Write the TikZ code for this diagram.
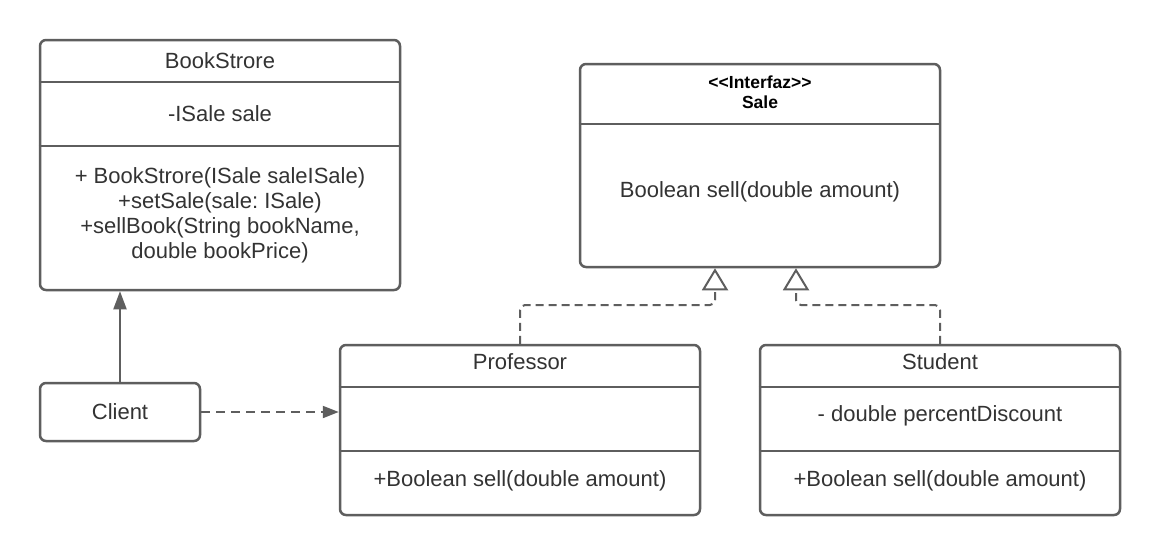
\documentclass[tikz,border=0pt]{standalone}
\usepackage{fontspec}
\setmainfont{Liberation Sans}
\usetikzlibrary{arrows.meta,positioning}
\definecolor{umlline}{HTML}{5E5E5E}
\definecolor{umltext}{HTML}{333333}
\frenchspacing

\begin{document}
\begin{tikzpicture}[x=1pt,y=-1pt,
    classbox/.style={draw=umlline, line width=2.5pt, rounded corners=6pt, inner sep=0pt, minimum width=360pt},
    divider/.style={draw=umlline, line width=2.5pt},
    txt/.style={text=umltext, font=\fontsize{22}{25}\selectfont, align=center, inner sep=0pt},
    stereo/.style={text=black, font=\fontsize{17.5}{20}\selectfont\bfseries, align=center, inner sep=0pt},
    assoc/.style={draw=umlline, line width=2pt, -{Triangle[length=18pt,width=13pt]}},
    dep/.style={draw=umlline, line width=2pt, dash pattern=on 9pt off 6pt, -{Triangle[length=16pt,width=12pt]}},
    realize/.style={draw=umlline, line width=2pt, dash pattern=on 8pt off 5pt, rounded corners=5pt, -{Triangle[open,length=22pt,width=26pt]}}]
    \useasboundingbox[fill=white](0,0)rectangle(1160,555);

    % classes
    \node[classbox, minimum height=250pt](store)at(220,165){};
    \node[classbox, minimum height=203pt](sale)at(760,165.5){};
    \node[classbox, minimum height=170pt](prof)at(520,430){};
    \node[classbox, minimum height=170pt](student)at(940,430){};
    \node[classbox, minimum width=160pt, minimum height=58pt, txt](client)at(120,412){Client};

    % compartments
    \draw[divider](store.west|-0,82)--(store.east|-0,82);
    \draw[divider](store.west|-0,146)--(store.east|-0,146);
    \draw[divider](sale.west|-0,124)--(sale.east|-0,124);
    \foreach \cls in {prof,student}{
        \draw[divider](\cls.west|-0,387)--(\cls.east|-0,387);
        \draw[divider](\cls.west|-0,451)--(\cls.east|-0,451);
    }

    % texts
    \node[txt](storename)at(220,61){BookStrore};
    \node[txt](storeattr)at(220,114){-ISale sale};
    \node[txt](storeops)at(220,215.5){+ BookStrore(ISale saleISale)\\+setSale(sale: ISale)\\+sellBook(String bookName,\\double bookPrice)};
    \node[stereo](salename)at(760,92){<\kern0pt<Interfaz>\kern0pt>\\Sale};
    \node[txt](saleops)at(760,192){Boolean sell(double amount)};
    \node[txt](profname)at(520,362){Professor};
    \node[txt](profops)at(520,481){+Boolean sell(double amount)};
    \node[txt](studentname)at(940,362){Student};
    \node[txt](studentattr)at(940,416){- double percentDiscount};
    \node[txt](studentops)at(940,481){+Boolean sell(double amount)};

    % relations
    \draw[assoc](client)--(client|-store.south);
    \draw[dep](client)--(prof.west|-client);
    \coordinate(profbend)at(715,305);
    \coordinate(studentbend)at(796,305);
    \draw[realize](prof.north)|-(profbend)--(profbend|-sale.south);
    \draw[realize](student.north)|-(studentbend)--(studentbend|-sale.south);
\end{tikzpicture}
\end{document}
